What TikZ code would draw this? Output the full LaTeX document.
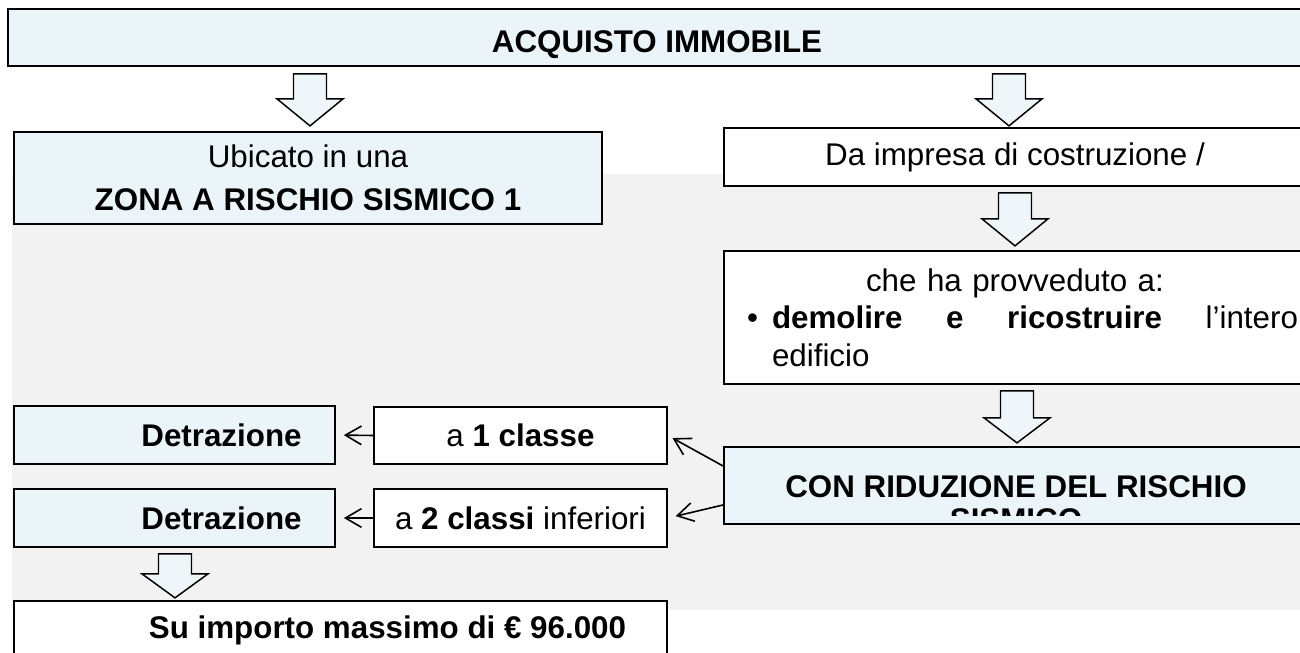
\documentclass[tikz,border=0pt]{standalone}
\usepackage{fontspec}
\setmainfont{Liberation Sans}
\usetikzlibrary{arrows.meta,calc}
\definecolor{boxblue}{HTML}{EBF5F9}
\definecolor{arrowblue}{HTML}{EEF6F9}
\definecolor{bggray}{HTML}{F2F2F2}
% big hollow down arrow: top point, shaft length, head length
\newcommand{\blkarrow}[3]{\draw[blockarrow] #1 ++(-16.5,0) -- ++(33,0) -- ++(0,#2) -- ++(16.5,0) -- ++(-33,#3) -- ++(-33,-#3) -- ++(16.5,0) -- cycle;}
\begin{document}
\begin{tikzpicture}[x=0.75pt, y=-0.75pt,
  font=\fontsize{23.5}{28}\selectfont,
  box/.style={draw=black, line width=1.3pt, fill=white, inner sep=0pt, minimum height=43.5pt},
  bluebox/.style={box, fill=boxblue},
  blockarrow/.style={draw=black, line width=1.1pt, fill=arrowblue, line join=miter},
  thinarrow/.style={-{Straight Barb[length=12pt,width=14pt]}, line width=1.2pt}]
\useasboundingbox (0,0) rectangle (1300,653);
\clip (0,0) rectangle (1300,653);
\fill[bggray] (12,174) rectangle (1300,610);
% boxes
\node[bluebox, minimum width=973.5pt, minimum height=42.75pt, text height=22.8pt, text depth=0pt] (acq) at (657,37.5) {\textbf{ACQUISTO IMMOBILE}};
\node[bluebox, minimum width=441pt, minimum height=69pt, align=center] (ubi) at (308,178) {Ubicato in una\\[4pt]\textbf{ZONA A RISCHIO SISMICO 1}};
\node[box, minimum width=436.5pt] (dai) at (1015,157) {Da impresa di costruzione /};
\node[box, minimum width=436.5pt, minimum height=99.75pt, text width=424.5pt, align=center] (che) at (1015,317.5) {che ha provveduto a:\\\makebox[424.5pt][l]{\hspace*{11.25pt}\makebox[18.75pt][l]{\textbullet}\makebox[394.5pt]{\textbf{demolire}\hfill\textbf{e}\hfill\textbf{ricostruire}\hfill l’intero}}\\\makebox[424.5pt][l]{\hspace*{30pt}edificio}};
\node[bluebox, minimum width=436.5pt, minimum height=57.75pt] (con) at (1015,485.5) {};
\begin{scope}
\clip (724,447) rectangle (1306,515);
\node[inner sep=0pt, align=center, font=\fontsize{23.5}{24.75}\selectfont\bfseries] (contxt) at (1016,503.3) {CON RIDUZIONE DEL RISCHIO\\SISMICO};
\end{scope}
\node[bluebox, minimum width=240.75pt] (det1) at (174.5,435) {\hspace*{70.5pt}\textbf{Detrazione}};
\node[bluebox, minimum width=240.75pt] (det2) at (174.5,518) {\hspace*{70.5pt}\textbf{Detrazione}};
\node[box, minimum width=219.75pt, minimum height=42.75pt] (uno) at (520.5,435.5) {a \textbf{1 classe}};
\node[box, minimum width=219.75pt] (due) at (520.5,518) {a \textbf{2 classi} inferiori};
\node[box, minimum width=489.75pt, minimum height=44.25pt] (imp) at (340.5,630.5) {\hspace*{70.5pt}\textbf{Su importo massimo di € 96.000}};
% big arrows
\blkarrow{($(acq.south -| ubi.north)+(2,7)$)}{25}{27}
\blkarrow{($(acq.south -| dai.north)+(-6,7)$)}{25}{27}
\blkarrow{($(dai.south -| che.north)+(0,6)$)}{26}{27}
\blkarrow{($(che.south -| con.north)+(2,6)$)}{27}{25}
\blkarrow{($(det2.south)+(0.5,6)$)}{20}{24}
% thin arrows
\draw[thinarrow, shorten >=6pt] (uno.west) -- (det1.east);
\draw[thinarrow, shorten >=6pt] (due.west) -- (det2.east);
\draw[thinarrow, shorten >=4pt] ([yshift=14.6pt]con.west) -- (uno.east);
\draw[thinarrow, shorten >=6pt] ([yshift=-14.6pt]con.west) -- (due.east);
\end{tikzpicture}
\end{document}
